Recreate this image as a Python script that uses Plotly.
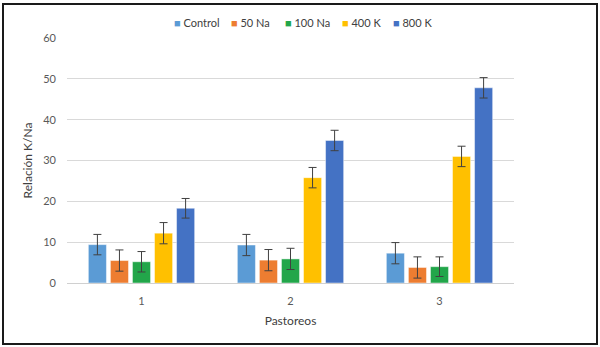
import plotly.graph_objects as go

categories = ["1", "2", "3"]
series_names = ["Control", "50 Na", "100 Na", "400 K", "800 K"]
control = [9.4, 9.3, 7.3]
na50 = [5.5, 5.6, 3.8]
na100 = [5.2, 5.9, 4.0]
k400 = [12.2, 25.8, 31.0]
k800 = [18.3, 34.9, 47.8]
err_control = [2.5, 2.6, 2.6]
err_na50 = [2.6, 2.6, 2.6]
err_na100 = [2.5, 2.6, 2.4]
err_k400 = [2.6, 2.5, 2.5]
err_k800 = [2.4, 2.5, 2.5]
y_ticks = [0, 10, 20, 30, 40, 50, 60]

colors = ["#5B9BD5", "#ED7D31", "#22A64A", "#FFC000", "#4472C4"]
values = [control, na50, na100, k400, k800]
errors = [err_control, err_na50, err_na100, err_k400, err_k800]

# plot area in pixels (for paper-coordinate conversions of decorations)
PL, PR, PT, PB = 67, 514, 38, 283
PW, PH = PR - PL, PB - PT

fig = go.Figure()
for name, vals, errs, col in zip(series_names, values, errors, colors):
    fig.add_trace(go.Bar(
        x=categories, y=vals, name=name, showlegend=False,
        marker=dict(color=col, line=dict(color="rgba(255,255,255,0.45)", width=1)),
        error_y=dict(type="data", array=errs, visible=True, color="#404040",
                     thickness=1, width=4),
    ))

# custom compact legend (Excel-like)
legend_px = [172, 229, 283, 340, 391]
annotations = []
for name, col, px in zip(series_names, colors, legend_px):
    annotations.append(dict(
        xref="paper", yref="paper", x=(px - PL) / PW, y=(PB - 22) / PH,
        xanchor="left", yanchor="middle", showarrow=False,
        text=f"<span style='color:{col}'>■</span> {name}",
        font=dict(size=11, color="#404040"),
    ))

font_family = "Lato, 'Open Sans', sans-serif"
fig.update_layout(
    width=600, height=347,
    margin=dict(l=PL, r=600 - PR, t=PT, b=347 - PB),
    paper_bgcolor="white", plot_bgcolor="white",
    barmode="group", bargap=0.26, bargroupgap=0.18,
    font=dict(family=font_family, size=11, color="#595959"),
    showlegend=False,
    annotations=annotations,
    xaxis=dict(showgrid=False, showline=True, linecolor="#d0d0d0", linewidth=1,
               ticks="", ticklabelstandoff=8,
               title=dict(text="Pastoreos", font=dict(size=12, color="#404040"), standoff=10)),
    yaxis=dict(range=[0, 60], tickvals=y_ticks, showgrid=True, gridcolor="#d9d9d9",
               gridwidth=1, zeroline=False, showline=False, ticks="",
               ticklabelstandoff=10,
               title=dict(text="Relación K/Na", font=dict(size=12, color="#404040"), standoff=8)),
    shapes=[dict(type="rect", xref="paper", yref="paper",
                 x0=(3 - PL) / PW, x1=(597 - PL) / PW,
                 y0=(PB - 344) / PH, y1=(PB - 4) / PH,
                 line=dict(color="#1a1a1a", width=2), layer="above")],
)

fig.write_html("out.html")
